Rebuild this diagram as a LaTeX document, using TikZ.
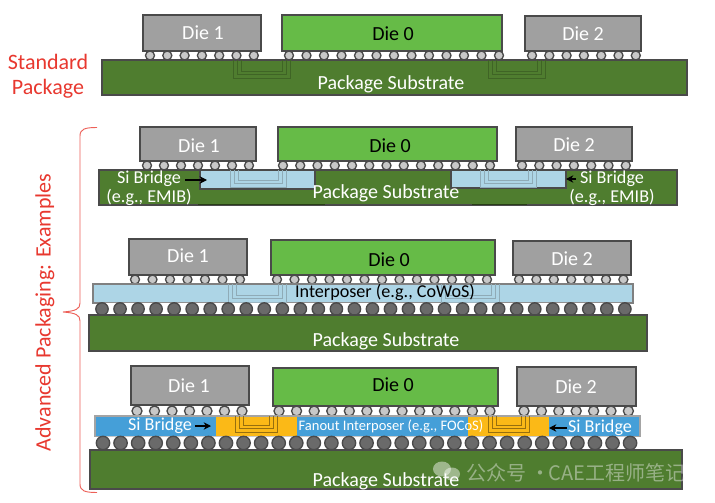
\documentclass[tikz,border=0pt]{standalone}
\usepackage{fontspec}
\setmainfont{Carlito}
\newfontfamily\cjkfont{Noto Sans CJK SC}
\usetikzlibrary{decorations.pathreplacing,calc,arrows.meta}
\definecolor{subgreen}{HTML}{4F7D2F}
\definecolor{diegreen}{HTML}{66BB47}
\definecolor{diegray}{HTML}{A0A0A0}
\definecolor{edgegray}{HTML}{4A4A4A}
\definecolor{paleblue}{HTML}{ADD5E6}
\definecolor{midblue}{HTML}{459FD8}
\definecolor{amber}{HTML}{FBB917}
\definecolor{labelred}{HTML}{E8382F}
\definecolor{ballfill}{HTML}{C8C8C8}
\definecolor{ballfilldark}{HTML}{6A6A6A}
\tikzset{
  x=0.75pt, y=-0.75pt,
  block/.style={draw=edgegray, line width=1pt, inner sep=0pt, outer sep=0pt},
  graydie/.style={block, fill=diegray, text=white},
  greendie/.style={block, fill=diegreen, text=black},
  substrate/.style={block, fill=subgreen, text=white},
  interposer/.style={block, fill=paleblue, draw=edgegray!70, text=black},
  bluelayer/.style={block, fill=midblue, draw=edgegray!50, text=white},
  amberbridge/.style={inner sep=0pt, outer sep=0pt, fill=amber},
  palebridge/.style={block, fill=paleblue},
  caption/.style={text=white, font=\fontsize{15}{14.5}\selectfont, inner sep=0pt, yshift=-0.75pt},
  smallcaption/.style={caption, font=\fontsize{13.6}{14.25}\selectfont},
  redlabel/.style={text=labelred, font=\fontsize{16.5}{18.75}\selectfont, inner sep=0pt, align=center},
  pointer/.style={-{Stealth[length=5.5pt,width=5.5pt]}, line width=0.8pt, draw=black},
}
% \layerbox{name}{style}{x0}{y0}{x1}{y1}{text}: a block given by its corners in pixels
\newcommand{\layerbox}[7]{%
  \node[#2, minimum width={(#5-#3)*0.75pt}, minimum height={(#6-#4)*0.75pt},
        anchor=north west] (#1) at (#3,#4) {#7};}
% \bumprow{x0}{dx}{count}{y}{r}{fill}: solder bumps with white hourglass gaps
\newcommand{\bumprow}[6]{%
  \pgfmathsetmacro{\lastx}{#1+(#3-1)*#2}%
  \fill[edgegray!85] (#1,#4-#5) rectangle (\lastx,#4+#5);
  \pgfmathtruncatemacro{\gaps}{#3-1}%
  \foreach \k in {1,...,\gaps}{%
    \pgfmathsetmacro{\ca}{#1+(\k-1)*#2}%
    \pgfmathsetmacro{\cb}{\ca+#2}%
    \fill[white] (\ca+#5*0.45,#4-#5) -- (\cb-#5*0.45,#4-#5) -- (\cb-#5,#4) --
      (\cb-#5*0.45,#4+#5) -- (\ca+#5*0.45,#4+#5) -- (\ca+#5,#4) -- cycle;
  }%
  \foreach \k in {1,...,#3}{%
    \pgfmathsetmacro{\ca}{#1+(\k-1)*#2}%
    \draw[edgegray, fill=#6, line width=1pt] (\ca,#4) circle[radius=#5];
  }}
% \routing{x0}{x1}{ytop}{ybot}{colour}: nested wiring traces inside a bridge
\newcommand{\routing}[5]{%
  \foreach \i in {0,1,2}{%
    \draw[#5, line width=0.6pt]
      (#1+\i*4,#3) -- (#1+\i*4,#4-\i*3.5) -- (#2-\i*4,#4-\i*3.5) -- (#2-\i*4,#3);
  }}
\begin{document}
\begin{tikzpicture}
\useasboundingbox (0,0) rectangle (715,503);
\fill[white] (0,0) rectangle (715,503);

% Left-hand labels and brace
\node[redlabel] (std) at (48,76.5) {Standard\\Package};
\node[redlabel, rotate=90] (adv) at (45,312.5) {Advanced Packaging: Examples};
\coordinate (bracetop) at (97,127.5);
\coordinate (bracebot) at (97,492.5);
\draw[labelred!80, line width=0.7pt] (bracetop) .. controls (85,127.5) and (80,129) .. (80,136)
  -- (80,303) .. controls (80,309) and (76,311) .. (63,312)
  .. controls (76,313) and (80,315) .. (80,321)
  -- (80,484) .. controls (80,491) and (85,492.5) .. (bracebot);

% Standard package
\bumprow{150}{17.3}{7}{55.5}{4.5}{ballfill}
\bumprow{289}{17.5}{13}{55.5}{4.5}{ballfill}
\bumprow{532}{17.3}{7}{55.5}{4.5}{ballfill}
\layerbox{sA}{substrate}{102}{60}{687}{95}{}
\node[caption] (sAt) at (391,83) {Package Substrate};
\routing{233}{290}{60}{78}{subgreen!80!black}
\routing{488}{545}{60}{78}{subgreen!80!black}
\layerbox{dA1}{graydie}{143}{15}{261}{51}{}
\layerbox{dA0}{greendie}{282}{15}{502}{51}{}
\layerbox{dA2}{graydie}{525}{16}{641}{51}{}
\node[caption] at (203,32) {Die 1};
\node[caption, text=black] at (393,33) {Die 0};
\node[caption] at (583,33) {Die 2};

% EMIB-style embedded bridges
\bumprow{147}{17}{7}{165.5}{4.5}{ballfill}
\bumprow{283}{17.25}{13}{165.5}{4.5}{ballfill}
\bumprow{522}{17.3}{7}{165.5}{4.5}{ballfill}
\layerbox{sB}{substrate}{99}{170}{677}{205}{}
\draw[subgreen!50!black, line width=1pt] (198,204.5) -- (325,204.5);
\draw[subgreen!50!black, line width=1pt] (472,204.5) -- (527,204.5);
\layerbox{brL}{palebridge}{200}{170}{315}{189}{}
\layerbox{brR}{palebridge}{451}{170}{566}{188}{}
\routing{230}{286}{170}{187}{edgegray!30!paleblue}
\routing{480}{536}{170}{187}{edgegray!30!paleblue}
\node[caption] (sBt) at (386,192) {Package Substrate};
\node[smallcaption, align=center] (siL) at (149,187) {Si Bridge\\(e.g., EMIB)};
\node[smallcaption, align=center] (siR) at (612,187.5) {Si Bridge\\(e.g., EMIB)};
\coordinate (siLout) at (185,180);
\coordinate (siRout) at (576,179);
\draw[pointer] (siLout) -- ($(brL.west |- siLout)+(7,0)$);
\draw[pointer] (siRout) -- (brR.east |- siRout);
\layerbox{dB1}{graydie}{140}{127}{256}{161}{}
\layerbox{dB0}{greendie}{278}{127}{497}{161}{}
\layerbox{dB2}{graydie}{516}{127}{632}{161}{}
\node[caption] at (199,145) {Die 1};
\node[caption, text=black] at (390,145) {Die 0};
\node[caption] at (574,144) {Die 2};

% Silicon interposer
\bumprow{135}{17.5}{7}{279.5}{4.5}{ballfill}
\bumprow{277}{17.5}{13}{279.5}{4.5}{ballfill}
\bumprow{519}{17.4}{7}{279.5}{4.5}{ballfill}
\layerbox{iC}{interposer}{93}{284}{633}{303}{}
\routing{228}{286}{284}{302}{edgegray!30!paleblue}
\routing{441}{499}{284}{302}{edgegray!30!paleblue}
\node[smallcaption, text=black] (iCt) at (385,291.5) {Interposer (e.g., CoWoS)};
\bumprow{102}{18.03}{30}{309}{6.2}{ballfilldark}
\layerbox{sC}{substrate}{89}{315}{647}{351}{}
\node[caption] (sCt) at (386,340) {Package Substrate};
\layerbox{dC1}{graydie}{129}{239}{247}{275}{}
\layerbox{dC0}{greendie}{271}{240}{495}{275}{}
\layerbox{dC2}{graydie}{513}{241}{631}{275}{}
\node[caption] at (188,255) {Die 1};
\node[caption, text=black] at (389,259) {Die 0};
\node[caption] at (572,258) {Die 2};

% Fanout interposer with amber bridges
\bumprow{137}{17.5}{7}{411}{5}{ballfill}
\bumprow{279}{17.58}{13}{411}{5}{ballfill}
\bumprow{524}{17.4}{7}{411}{5}{ballfill}
\layerbox{iD}{bluelayer}{95}{416}{640}{436.5}{}
\layerbox{yL}{amberbridge}{216}{417}{297}{435.5}{}
\layerbox{yR}{amberbridge}{468}{417}{549}{435.5}{}
\routing{235}{277}{416}{432}{amber!60!black}
\routing{488}{529}{416}{432}{amber!60!black}
\node[caption, font=\fontsize{10.9}{12}\selectfont] (iDt) at (391,425) {Fanout Interposer (e.g., FOCoS)};
\node[smallcaption] (siD) at (160,424.5) {Si Bridge};
\node[smallcaption] (siE) at (600,426.5) {Si Bridge};
\coordinate (siDout) at (195,426);
\coordinate (siEout) at (567,428);
\draw[pointer] (siDout) -- ($(yL.west |- siDout)+(-5,0)$);
\draw[pointer] (siEout) -- (yR.east |- siEout);
\bumprow{103}{17.57}{31}{443}{6.7}{ballfilldark}
\layerbox{sD}{substrate}{90}{450}{682}{489}{}
\node[caption] (sDt) at (386,480) {Package Substrate};
\layerbox{dD1}{graydie}{131}{366}{249}{405}{}
\layerbox{dD0}{greendie}{273}{368}{498}{406}{}
\layerbox{dD2}{graydie}{517}{367}{636}{406}{}
\node[caption] at (189,385) {Die 1};
\node[caption, text=black] at (393,384) {Die 0};
\node[caption] at (576,386) {Die 2};

% Publisher mark along the lower edge
\begin{scope}[opacity=0.45]
  \fill[white] (442,469) ellipse[x radius=9, y radius=7.5];
  \fill[white] (452,474) ellipse[x radius=8, y radius=6.5];
  \node[anchor=west, inner sep=0pt, text=gray!12, font=\cjkfont\fontsize{15}{17}\selectfont] (mark) at (466,473) {公众号 · \hspace{-5pt}CAE工程师笔记};
\end{scope}
\end{tikzpicture}
\end{document}
